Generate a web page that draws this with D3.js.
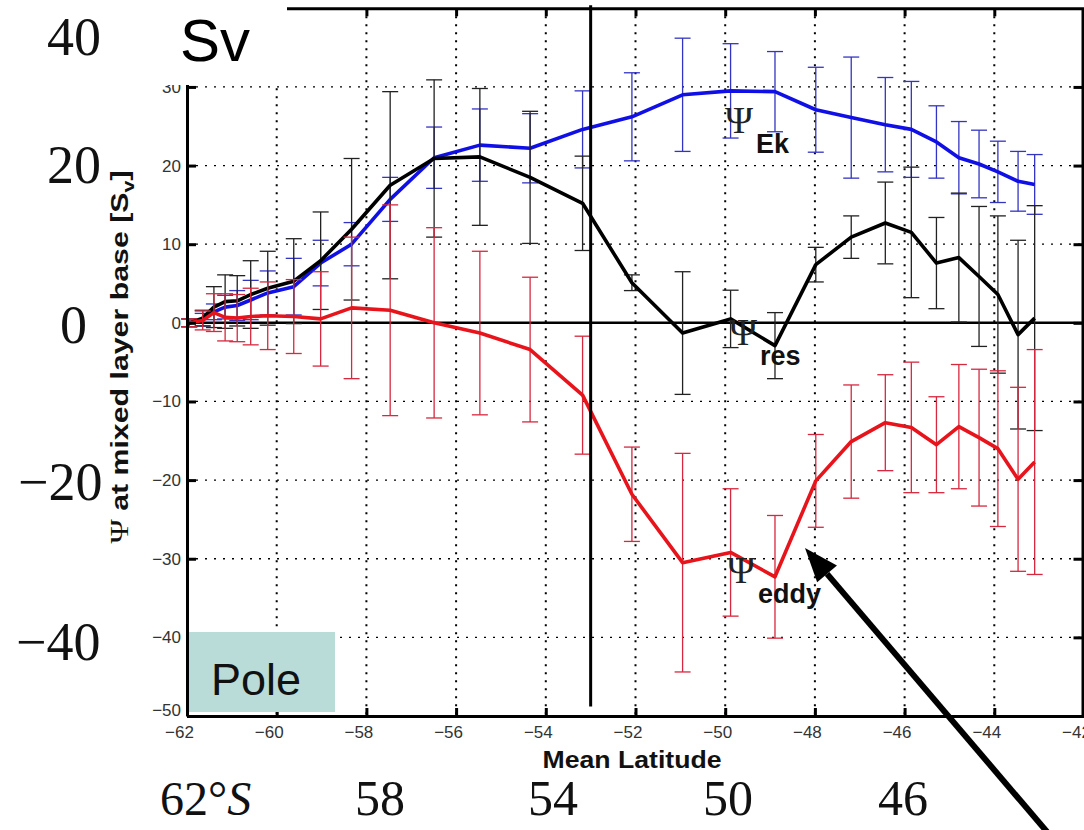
<!DOCTYPE html>
<html lang="en">
<head>
<meta charset="utf-8">
<script src="https://d3js.org/d3.v7.min.js"></script>
<style>
  body { margin: 0; background: #fff; }
  svg { display: block; }
  .axis text { font-family: "Liberation Sans", Arial, sans-serif; font-size: 17px; fill: #333; }
  .axis path, .axis line { stroke: #000; stroke-width: 3; }
</style>
</head>
<body>
<script>
// mean latitude of each band (x)
const lat = [-61.95, -61.65, -61.4, -61.15, -60.88, -60.58, -60.2, -59.62, -59.02, -58.33,
             -57.47, -56.49, -55.47, -54.35, -53.18, -52.08, -50.95, -49.88, -48.89, -47.98,
             -47.19, -46.43, -45.85, -45.29, -44.79, -44.34, -43.92, -43.47, -43.1];

// Psi Ekman
const ek    = [0, 0.4, 1.4, 2.0, 2.2, 2.9, 3.8, 4.6, 7.6, 10.0, 15.7, 21.0, 22.6, 22.2, 24.6,
               26.2, 29.0, 29.5, 29.4, 27.1, 26.1, 25.2, 24.6, 23.0, 21.0, 20.2, 19.2, 18.0, 17.6];
const ekErr = [0.5, 0.8, 1.0, 1.5, 1.9, 2.5, 2.8, 3.6, 2.9, 2.75, 2.8, 3.9, 4.6, 4.4, 4.9,
               5.6, 7.2, 6.0, 5.1, 5.4, 7.7, 6.0, 6.1, 4.6, 4.6, 4.3, 3.9, 3.8, 3.8];

// Psi residual
const res    = [0, 0.6, 2.0, 2.7, 2.8, 3.6, 4.4, 5.3, 7.9, 11.9, 17.5, 20.9, 21.1, 18.5, 15.2,
                5.1, -1.3, 0.5, -2.9, 7.4, 10.9, 12.7, 11.5, 7.6, 8.3, 5.9, 3.6, -1.5, 0.6];
const resErr = [0.5, 1.0, 2.6, 3.4, 3.2, 4.3, 4.7, 5.4, 6.2, 9.0, 11.9, 10.0, 8.7, 8.4, 6.0,
                1.0, 7.8, 3.65, 4.2, 2.2, 2.7, 5.2, 8.3, 5.8, 8.2, 8.9, 10.0, 12.0, 14.3];

// Psi eddy
const eddy    = [0, 0.3, 1.3, 0.7, 0.6, 0.8, 0.9, 0.8, 0.5, 1.9, 1.6, 0, -1.3, -3.4, -9.2,
                 -21.8, -30.5, -29.2, -32.3, -20.1, -15.1, -12.7, -13.3, -15.5, -13.2, -14.6, -16.0, -19.9, -17.7];
const eddyErr = [0.5, 1.2, 2.4, 3.0, 3.0, 3.6, 4.3, 4.7, 6.0, 9.0, 13.4, 12.1, 10.4, 9.2, 7.5,
                 6.0, 13.9, 8.1, 7.8, 5.9, 7.2, 6.1, 8.3, 6.1, 7.9, 8.7, 9.9, 11.7, 14.3];

const xTicks = [-62, -60, -58, -56, -54, -52, -50, -48, -46, -44, -42];
const yTicks = [-50, -40, -30, -20, -10, 0, 10, 20, 30];

const W = 1084, H = 830;
const svg = d3.select("body").append("svg").attr("width", W).attr("height", H);

const x = d3.scaleLinear().domain([-62, -42]).range([187, 1084]);
const y = d3.scaleLinear().domain([-50, 40]).range([716, 8.3]);

// dotted grid
svg.append("g").selectAll("line").data(xTicks.slice(1, -1)).join("line")
  .attr("x1", d => x(d)).attr("x2", d => x(d))
  .attr("y1", y(40)).attr("y2", y(-50))
  .attr("stroke", "#000").attr("stroke-width", 2).attr("stroke-dasharray", "2,6");
svg.append("g").selectAll("line").data(yTicks.slice(1)).join("line")
  .attr("x1", x(-62)).attr("x2", x(-42))
  .attr("y1", d => y(d)).attr("y2", d => y(d))
  .attr("stroke", "#000").attr("stroke-width", 1.3).attr("stroke-dasharray", "2,7");

// zero line
svg.append("line")
  .attr("x1", x(-62)).attr("x2", x(-42)).attr("y1", y(0)).attr("y2", y(0))
  .attr("stroke", "#000").attr("stroke-width", 2.5);

function drawSeries(vals, errs, lineColor, barColor) {
  const pts = lat.map((d, i) => ({ lat: d, v: vals[i], e: errs[i] }));
  const g = svg.append("g");
  g.selectAll("line.bar").data(pts).join("line").attr("class", "bar")
    .attr("x1", d => x(d.lat)).attr("x2", d => x(d.lat))
    .attr("y1", d => y(d.v + d.e)).attr("y2", d => y(d.v - d.e))
    .attr("stroke", barColor).attr("stroke-width", 1.3);
  ["top", "bot"].forEach(k => {
    g.selectAll("line.cap" + k).data(pts).join("line").attr("class", "cap" + k)
      .attr("x1", d => x(d.lat) - 8).attr("x2", d => x(d.lat) + 8)
      .attr("y1", d => y(k === "top" ? d.v + d.e : d.v - d.e))
      .attr("y2", d => y(k === "top" ? d.v + d.e : d.v - d.e))
      .attr("stroke", barColor).attr("stroke-width", 1.3);
  });
  g.append("path").datum(pts)
    .attr("d", d3.line().x(d => x(d.lat)).y(d => y(d.v)))
    .attr("fill", "none").attr("stroke", lineColor).attr("stroke-width", 3.6)
    .attr("stroke-linejoin", "round");
}

drawSeries(ek, ekErr, "#1010e6", "#3434c4");
drawSeries(res, resErr, "#000", "#222");
drawSeries(eddy, eddyErr, "#e8141c", "#d6283e");

// axes box
svg.append("g").attr("class", "axis").attr("transform", `translate(${x(-62)},0)`)
  .call(d3.axisLeft(y).tickValues(yTicks).tickSize(-9).tickSizeOuter(0).tickPadding(6))
  .selectAll("text").filter(d => d === -50).attr("dy", "-0.05em");
svg.append("g").attr("class", "axis").attr("transform", `translate(0,${y(-50)})`)
  .call(d3.axisBottom(x).tickValues(xTicks).tickSize(-8).tickSizeOuter(0).tickPadding(10))
  .selectAll("text").attr("dx", -8);
svg.append("g").attr("class", "axis").attr("transform", `translate(0,${y(40)})`)
  .call(d3.axisTop(x).tickValues(xTicks).tickSize(-8).tickSizeOuter(0).tickFormat(""));
svg.append("g").attr("class", "axis").attr("transform", `translate(${x(-42) - 1.5},0)`)
  .call(d3.axisRight(y).tickValues(yTicks).tickSize(-9).tickSizeOuter(0).tickFormat(""));

// vertical marker at 53S
svg.append("line")
  .attr("x1", x(-53)).attr("x2", x(-53)).attr("y1", y(40) - 3).attr("y2", y(-48.8))
  .attr("stroke", "#000").attr("stroke-width", 3);

// axis titles
const ylab = svg.append("text")
  .attr("transform", "translate(128,357) rotate(-90)")
  .attr("text-anchor", "middle")
  .attr("textLength", 373).attr("lengthAdjust", "spacingAndGlyphs")
  .style("font-family", "'Liberation Sans', Arial, sans-serif")
  .style("font-weight", "bold").style("font-size", "24px").attr("fill", "#111");
ylab.append("tspan").style("font-family", "'Liberation Serif', 'Times New Roman', serif")
  .style("font-weight", "normal").style("font-size", "26px").text("Ψ");
ylab.append("tspan").text(" at mixed layer base [S");
ylab.append("tspan").attr("dy", 6).style("font-size", "17px").text("v");
ylab.append("tspan").attr("dy", -6).text("]");

svg.append("text")
  .attr("x", 632).attr("y", 768).attr("text-anchor", "middle")
  .attr("textLength", 179).attr("lengthAdjust", "spacingAndGlyphs")
  .style("font-family", "'Liberation Sans', Arial, sans-serif")
  .style("font-weight", "bold").style("font-size", "24px").attr("fill", "#111")
  .text("Mean Latitude");

// curve labels
const serif = "'Liberation Serif', 'Times New Roman', serif";
const sans = "'Liberation Sans', Arial, sans-serif";
function psiLabel(px, py, sub) {
  svg.append("text").attr("x", px).attr("y", py)
    .style("font-family", serif).style("font-size", "38px").attr("fill", "#222").text("Ψ");
  svg.append("text").attr("x", px + 31).attr("y", py + 20)
    .style("font-family", sans).style("font-weight", "bold").style("font-size", "27px")
    .attr("fill", "#111").text(sub);
}
psiLabel(725, 133, "Ek");
psiLabel(729, 345, "res");
psiLabel(727, 583, "eddy");

// overlay annotations
svg.append("rect").attr("x", 140).attr("y", 0).attr("width", 147).attr("height", 85).attr("fill", "#fff");
svg.append("text").attr("x", 180).attr("y", 61)
  .style("font-family", sans).style("font-size", "60px").attr("fill", "#000").text("Sv");

const bigLeft = [["40", 47, 55], ["20", 47, 183], ["0", 60, 343], ["\u221220", 18, 500], ["\u221240", 16, 660]];
svg.append("g").selectAll("text").data(bigLeft).join("text")
  .attr("x", d => d[1]).attr("y", d => d[2])
  .style("font-family", serif).style("font-size", "54px").attr("fill", "#111")
  .text(d => d[0]);

const bigBottom = [["58", 355], ["54", 528], ["50", 703], ["46", 878]];
svg.append("g").selectAll("text").data(bigBottom).join("text")
  .attr("x", d => d[1]).attr("y", 815)
  .style("font-family", serif).style("font-size", "50px").attr("fill", "#111")
  .text(d => d[0]);
const s62 = svg.append("text").attr("x", 160).attr("y", 815)
  .style("font-family", serif).style("font-size", "48px").attr("fill", "#111");
s62.append("tspan").text("62\u00b0");
s62.append("tspan").style("font-style", "italic").text("S");

svg.append("rect").attr("x", 189).attr("y", 632).attr("width", 146).attr("height", 80).attr("fill", "#b9dcd9");
svg.append("text").attr("x", 211).attr("y", 695)
  .style("font-family", sans).style("font-size", "45px").attr("fill", "#111").text("Pole");

// arrow pointing at the eddy minimum
const tip = [805, 548], tail = [1054, 840];
const dx = tip[0] - tail[0], dy = tip[1] - tail[1], len = Math.hypot(dx, dy);
const ux = dx / len, uy = dy / len, hl = 34, hw = 13;
const bx = tip[0] - ux * hl, by = tip[1] - uy * hl;
svg.append("line").attr("x1", tail[0]).attr("y1", tail[1]).attr("x2", bx).attr("y2", by)
  .attr("stroke", "#000").attr("stroke-width", 6);
svg.append("path")
  .attr("d", `M${tip[0]},${tip[1]}L${bx - uy * hw},${by + ux * hw}L${bx + uy * hw},${by - ux * hw}Z`)
  .attr("fill", "#000");
</script>
</body>
</html>
